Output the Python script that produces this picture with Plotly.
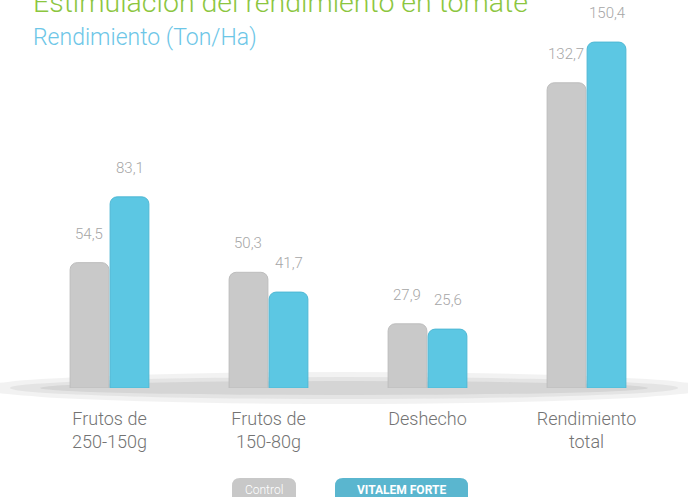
import plotly.graph_objects as go

categories = ["Frutos de<br>250-150g", "Frutos de<br>150-80g", "Deshecho", "Rendimiento<br>total"]
control = [54.5, 50.3, 27.9, 132.7]
vitalem = [83.1, 41.7, 25.6, 150.4]
series_names = ["Control", "VITALEM FORTE"]
title_text = "Estimulación del rendimiento en tomate"
subtitle_text = "Rendimiento (Ton/Ha)"

W, H = 688, 497
ML, MR, MT, MB = 30, 22, 20, 109
PW, PH = W - ML - MR, H - MT - MB
YMAX = 160

GRAY = "#c9c9c9"
CYAN = "#5cc7e3"
FONT = "Roboto"


def px(x):
    return (x - ML) / PW


def py(y):
    return (H - MB - y) / PH


fig = go.Figure()
fig.add_trace(go.Bar(x=categories, y=control, name=series_names[0],
                     marker=dict(color=GRAY, cornerradius=7, line=dict(color="#bdbdbd", width=1))))
fig.add_trace(go.Bar(x=categories, y=vitalem, name=series_names[1],
                     marker=dict(color=CYAN, cornerradius=7, line=dict(color="#4fb8d4", width=1))))

annotations = []
offs = [-0.13, 0.13]
for si, vals in enumerate([control, vitalem]):
    for i, v in enumerate(vals):
        annotations.append(dict(x=i + offs[si], y=v, xref="x", yref="y",
                                text=f"{v:.1f}".replace(".", ","), showarrow=False,
                                yshift=29, font=dict(family=FONT, size=15, color="#a6a6a6", weight=300)))

annotations.append(dict(x=px(31), y=py(2.5), xref="paper", yref="paper", xanchor="left", yanchor="middle",
                        text=title_text, showarrow=False,
                        font=dict(family=FONT, size=28.5, color="#8cc63f", weight=300)))
annotations.append(dict(x=px(31), y=py(37), xref="paper", yref="paper", xanchor="left", yanchor="middle",
                        text=subtitle_text, showarrow=False,
                        font=dict(family=FONT, size=23, color="#6dc6e7", weight=300)))

shapes = []
# base shadow
for (x0, x1, y0, y1, op) in [(-20, 708, 372, 404, 0.10), (10, 678, 377, 399, 0.12), (40, 648, 381, 395, 0.15)]:
    shapes.append(dict(type="circle", xref="paper", yref="paper", x0=px(x0), x1=px(x1), y0=py(y0), y1=py(y1),
                       fillcolor="#808080", opacity=op, line=dict(width=0), layer="below"))


def rrect(x0, y0, x1, y1, r):
    p = (f"M {px(x0 + r)},{py(y0)} L {px(x1 - r)},{py(y0)} "
         f"Q {px(x1)},{py(y0)} {px(x1)},{py(y0 + r)} L {px(x1)},{py(y1 - r)} "
         f"Q {px(x1)},{py(y1)} {px(x1 - r)},{py(y1)} L {px(x0 + r)},{py(y1)} "
         f"Q {px(x0)},{py(y1)} {px(x0)},{py(y1 - r)} L {px(x0)},{py(y0 + r)} "
         f"Q {px(x0)},{py(y0)} {px(x0 + r)},{py(y0)} Z")
    return p


legend_boxes = [(232, 296, "#c8c8c8", series_names[0], 300, 12),
                (335, 468, "#5ab6cf", series_names[1], 700, 12)]
for x0, x1, col, txt, wt, fs in legend_boxes:
    shapes.append(dict(type="path", xref="paper", yref="paper", path=rrect(x0, 478, x1, 504, 8),
                       fillcolor=col, line=dict(width=0)))
    annotations.append(dict(x=px((x0 + x1) / 2), y=py(490), xref="paper", yref="paper",
                            xanchor="center", yanchor="middle", text=txt, showarrow=False,
                            font=dict(family=FONT, size=fs, color="white", weight=wt)))

fig.update_layout(
    width=W, height=H,
    margin=dict(l=ML, r=MR, t=MT, b=MB),
    barmode="group", bargap=0.497, bargroupgap=0.03,
    plot_bgcolor="white", paper_bgcolor="white",
    showlegend=False,
    annotations=annotations, shapes=shapes,
    xaxis=dict(showgrid=False, zeroline=False, showline=False, ticks="",
               tickfont=dict(family=FONT, size=18, color="#737373", weight=300),
               ticklabelstandoff=18),
    yaxis=dict(range=[0, YMAX], visible=False, showgrid=False, zeroline=False),
)

fig.write_html("out.html", config={"displayModeBar": False},
               post_script="document.body.style.margin='0';document.body.style.overflow='hidden';")
